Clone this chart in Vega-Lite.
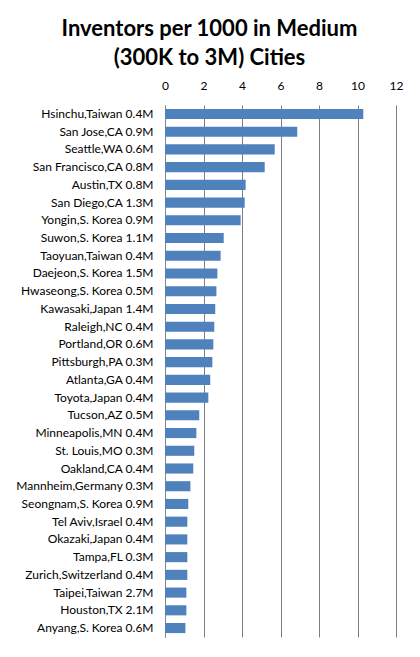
{
  "$schema": "https://vega.github.io/schema/vega-lite/v6.json",
  "description": "Inventors per 1000 people in medium sized cities",
  "autosize": "none",
  "padding": {"left": 165, "top": 105, "right": 24, "bottom": 20},
  "width": 231,
  "height": 532,
  "background": "white",
  "title": {
    "text": ["Inventors per 1000 in Medium", "(300K to 3M) Cities"],
    "font": "Lato",
    "fontSize": 22,
    "fontWeight": "bold",
    "color": "black",
    "lineHeight": 29,
    "anchor": "middle",
    "dx": -71,
    "offset": 9
  },
  "data": {
    "values": [
      {"city": "Hsinchu,Taiwan 0.4M", "inventors": 10.3},
      {"city": "San Jose,CA 0.9M", "inventors": 6.87},
      {"city": "Seattle,WA 0.6M", "inventors": 5.7},
      {"city": "San Francisco,CA 0.8M", "inventors": 5.18},
      {"city": "Austin,TX 0.8M", "inventors": 4.19},
      {"city": "San Diego,CA 1.3M", "inventors": 4.14},
      {"city": "Yongin,S. Korea 0.9M", "inventors": 3.93},
      {"city": "Suwon,S. Korea 1.1M", "inventors": 3.05},
      {"city": "Taoyuan,Taiwan 0.4M", "inventors": 2.89},
      {"city": "Daejeon,S. Korea 1.5M", "inventors": 2.72},
      {"city": "Hwaseong,S. Korea 0.5M", "inventors": 2.67},
      {"city": "Kawasaki,Japan 1.4M", "inventors": 2.61},
      {"city": "Raleigh,NC 0.4M", "inventors": 2.56},
      {"city": "Portland,OR 0.6M", "inventors": 2.51},
      {"city": "Pittsburgh,PA 0.3M", "inventors": 2.46},
      {"city": "Atlanta,GA 0.4M", "inventors": 2.35},
      {"city": "Toyota,Japan 0.4M", "inventors": 2.25},
      {"city": "Tucson,AZ 0.5M", "inventors": 1.78},
      {"city": "Minneapolis,MN 0.4M", "inventors": 1.63},
      {"city": "St. Louis,MO 0.3M", "inventors": 1.52},
      {"city": "Oakland,CA 0.4M", "inventors": 1.47},
      {"city": "Mannheim,Germany 0.3M", "inventors": 1.32},
      {"city": "Seongnam,S. Korea 0.9M", "inventors": 1.21},
      {"city": "Tel Aviv,Israel 0.4M", "inventors": 1.16},
      {"city": "Okazaki,Japan 0.4M", "inventors": 1.16},
      {"city": "Tampa,FL 0.3M", "inventors": 1.16},
      {"city": "Zurich,Switzerland 0.4M", "inventors": 1.16},
      {"city": "Taipei,Taiwan 2.7M", "inventors": 1.11},
      {"city": "Houston,TX 2.1M", "inventors": 1.11},
      {"city": "Anyang,S. Korea 0.6M", "inventors": 1.06}
    ]
  },
  "mark": {"type": "bar", "color": "#4F81BD"},
  "encoding": {
    "y": {
      "field": "city",
      "type": "nominal",
      "sort": null,
      "scale": {"paddingInner": 0.43, "paddingOuter": 0.22},
      "axis": {
        "title": null,
        "ticks": false,
        "tickSize": 0,
        "labelPadding": 12,
        "labelFont": "Lato",
        "labelFontSize": 12,
        "labelColor": "black",
        "domainColor": "#868686",
        "labelLimit": 200
      }
    },
    "x": {
      "field": "inventors",
      "type": "quantitative",
      "scale": {"domain": [0, 12], "nice": false},
      "axis": {
        "orient": "top",
        "title": null,
        "values": [0, 2, 4, 6, 8, 10, 12],
        "ticks": false,
        "tickSize": 0,
        "domain": false,
        "labelPadding": 13,
        "labelFont": "Lato",
        "labelFontSize": 12,
        "labelColor": "black",
        "gridColor": "#7f7f7f",
        "gridOpacity": 1,
        "labelFlush": false
      }
    }
  },
  "config": {"view": {"stroke": null}}
}
